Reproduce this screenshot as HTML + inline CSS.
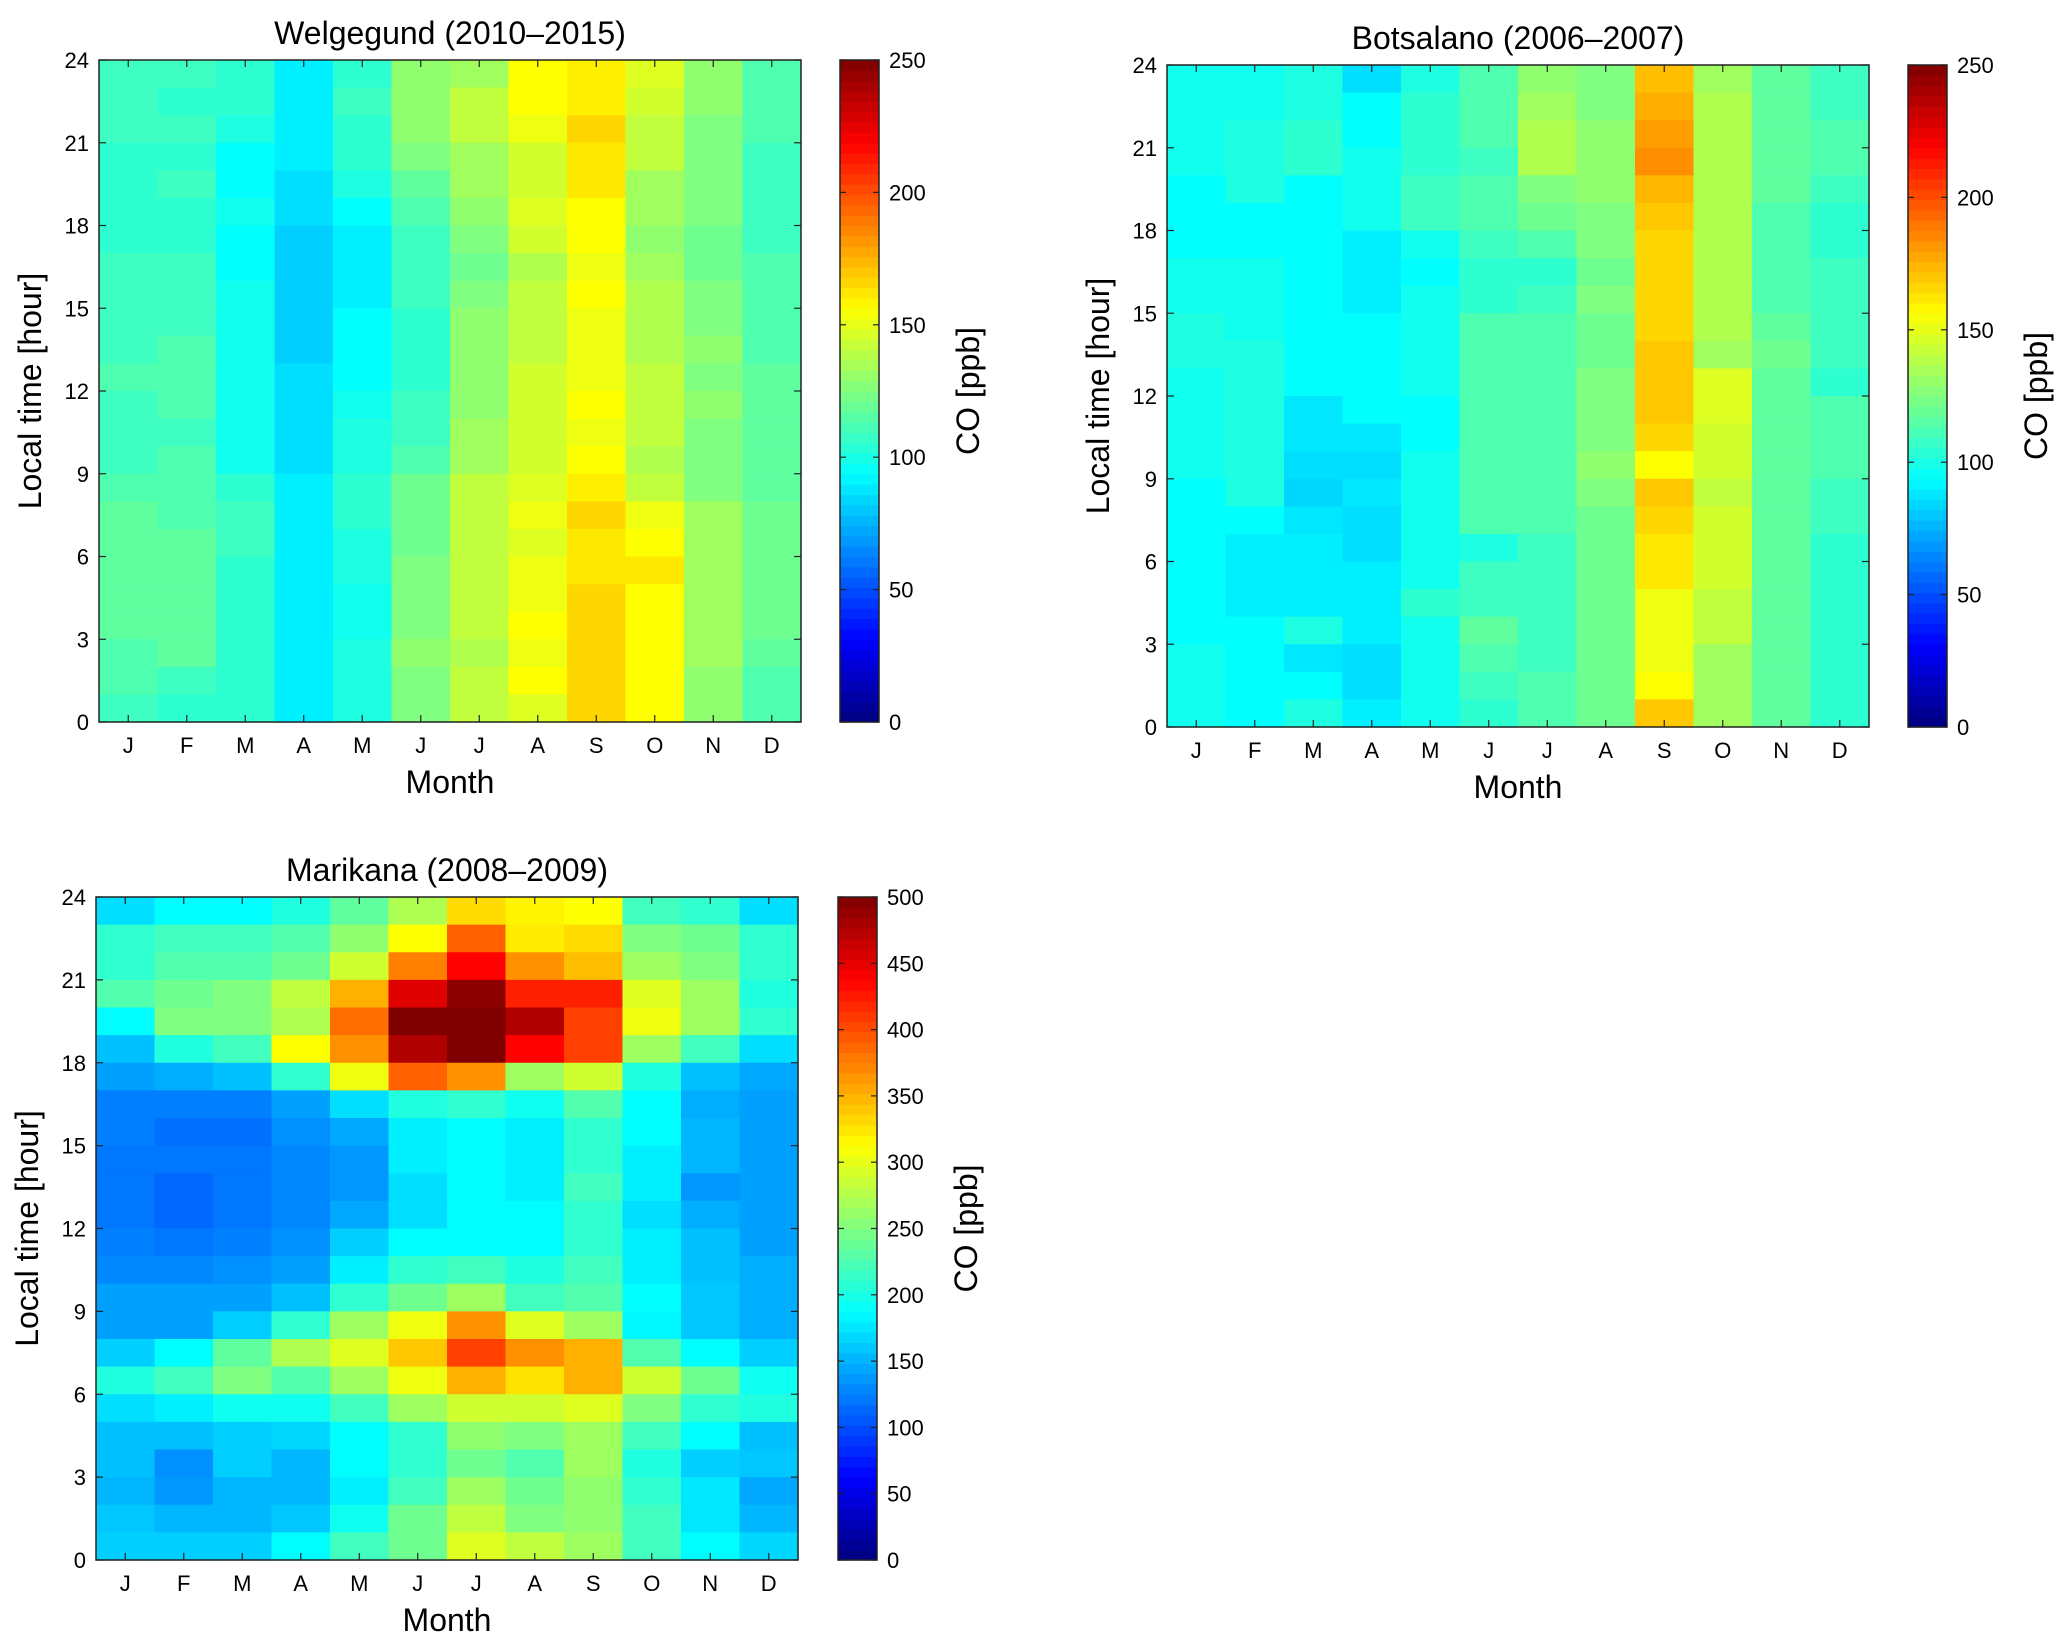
<!DOCTYPE html>
<html><head><meta charset="utf-8"><style>
html,body{margin:0;padding:0;background:#fff;}
svg{display:block;font-family:"Liberation Sans",Arial,sans-serif;}
</style></head><body>
<svg id="chart" width="2067" height="1645" viewBox="0 0 2067 1645" xmlns="http://www.w3.org/2000/svg"></svg>
<script>
const months = ["J","F","M","A","M","J","J","A","S","O","N","D"];
const hourTicks = [0,3,6,9,12,15,18,21,24];
const cbTicksA = [0,50,100,150,200,250];
const cbTicksB = [0,50,100,150,200,250,300,350,400,450,500];
// Rows are hour bins from 23-24 (first) down to 0-1 (last); columns J..D
const welgegund = [
[109,109,105,90,105,129,133,156,160,148,129,113],
[109,105,105,90,109,129,141,156,160,145,129,113],
[109,109,101,90,105,129,141,152,166,141,125,113],
[105,105,94,90,105,125,133,145,162,141,125,109],
[105,109,94,86,101,117,133,145,162,133,125,109],
[105,105,98,86,94,113,129,148,156,133,125,109],
[105,105,94,82,90,109,125,145,156,129,121,109],
[109,109,94,82,90,109,121,137,152,133,121,113],
[109,109,98,82,90,109,125,141,156,137,125,113],
[109,109,98,82,94,105,129,141,152,137,125,113],
[109,113,98,82,94,105,129,141,152,137,129,113],
[113,113,98,86,94,105,129,145,152,141,125,117],
[109,113,98,86,98,109,129,145,156,141,129,117],
[109,109,98,86,101,109,133,145,152,141,125,117],
[109,113,98,86,101,113,133,145,156,137,125,117],
[113,113,105,90,105,121,141,148,160,141,125,117],
[117,113,109,90,105,121,141,152,166,152,133,121],
[117,117,109,90,101,121,141,148,162,156,133,121],
[117,117,105,90,101,125,141,152,162,162,133,121],
[117,117,105,90,98,125,141,152,166,156,133,121],
[117,117,105,90,98,125,141,156,166,156,133,121],
[113,117,105,90,101,129,137,152,166,156,133,117],
[113,109,105,90,101,125,141,156,166,156,129,113],
[109,105,105,90,101,125,141,148,166,156,129,113]];
const botsalano = [
[98,98,101,86,101,113,129,125,172,133,117,109],
[98,98,101,94,105,113,133,125,176,137,117,109],
[98,101,105,94,105,113,137,129,180,137,117,113],
[98,101,105,98,105,109,137,129,184,137,117,113],
[94,101,94,98,109,113,125,129,174,137,117,109],
[94,94,94,98,109,113,121,125,170,137,113,105],
[94,94,94,90,98,109,113,125,166,137,113,105],
[98,98,94,90,94,105,105,121,166,137,113,109],
[98,98,94,90,98,105,109,125,166,137,113,109],
[101,98,94,94,98,113,113,121,166,137,117,109],
[101,101,94,94,98,113,113,121,170,133,121,109],
[98,101,94,94,98,113,113,125,170,148,117,105],
[98,101,88,94,94,113,113,125,170,148,117,113],
[98,101,88,88,94,113,113,125,166,145,117,113],
[98,101,86,86,98,113,113,129,156,145,117,113],
[94,101,84,88,98,113,113,125,170,141,117,109],
[94,94,88,86,98,113,113,121,166,145,117,109],
[94,90,90,86,98,101,109,121,162,145,117,105],
[94,90,90,90,98,109,109,121,162,145,117,105],
[94,90,90,90,105,109,109,121,152,141,117,105],
[94,94,101,90,98,117,109,121,152,141,117,105],
[98,94,88,86,98,113,109,121,152,133,117,105],
[98,94,94,86,98,109,113,121,156,133,117,105],
[98,94,101,90,98,105,113,121,170,133,117,105]];
const marikana = [
[172,187,187,203,234,273,330,318,312,219,211,172],
[211,219,219,227,258,312,390,322,330,250,242,211],
[211,227,227,242,289,375,437,367,344,265,250,211],
[227,242,250,281,351,453,494,422,422,297,265,203],
[187,250,250,273,383,500,500,476,406,305,265,211],
[157,203,219,312,367,476,500,437,406,265,219,172],
[141,148,157,211,305,390,367,265,289,203,157,145],
[125,125,125,141,172,203,211,195,227,187,148,141],
[125,117,117,133,145,180,187,180,211,187,152,141],
[121,121,121,129,137,180,187,180,211,180,152,141],
[121,113,121,129,137,172,187,180,219,180,137,141],
[121,113,121,129,145,172,187,187,211,172,148,141],
[125,121,125,133,164,187,187,187,211,180,157,141],
[129,129,133,141,180,211,219,203,219,180,157,148],
[141,141,141,157,211,242,265,219,227,187,160,148],
[141,141,164,211,265,305,367,297,265,184,160,148],
[164,187,234,273,297,340,406,367,351,227,187,164],
[203,219,250,227,265,305,351,326,351,289,242,195],
[172,180,195,195,219,265,289,289,297,250,211,203],
[157,157,164,168,187,211,258,250,265,219,187,157],
[157,133,164,152,187,211,242,227,265,203,164,160],
[152,137,152,152,180,219,265,242,258,211,176,145],
[160,152,152,160,195,242,281,250,258,219,176,152],
[164,164,164,187,219,242,297,281,265,219,187,168]];

const NS = "http://www.w3.org/2000/svg";
const svg = document.getElementById('chart');
function mk(tag, attrs, parent){const e=document.createElementNS(NS,tag);for(const k in attrs)e.setAttribute(k,attrs[k]);(parent||svg).appendChild(e);return e;}
function jet(t){t=Math.max(0,Math.min(1,t));
  const f=x=>Math.max(0,Math.min(1,x));
  const r=f(Math.min(4*t-1.5,-4*t+4.5)),g=f(Math.min(4*t-0.5,-4*t+3.5)),b=f(Math.min(4*t+0.5,-4*t+2.5));
  return `rgb(${Math.round(r*255)},${Math.round(g*255)},${Math.round(b*255)})`;}

function panel(cfg){
  const {x0,y0,w,h,data,vmax,cbTicks,title,cbx,name}=cfg;
  const g=mk('g',{});
  
  
  const nr=data.length,nc=months.length;
  const xs=c=>x0+c*w/nc, ys=hr=>y0+h-hr*h/24;
  for(let r=0;r<nr;r++)for(let c=0;c<nc;c++){
    const hr=23-r;
    const cell=mk('rect',{x:xs(c),y:ys(hr+1),width:w/nc+0.6,height:h/24+0.6,fill:jet(data[r][c]/vmax)},g);
    
    
  }
  const fr=mk('rect',{x:x0,y:y0,width:w,height:h,fill:'none',stroke:'#222','stroke-width':1.5},g);
  
  
  months.forEach((m,c)=>{const cx=xs(c)+w/nc/2;
    mk('line',{x1:cx,x2:cx,y1:y0+h,y2:y0+h-7,stroke:'#222','stroke-width':1.2},g);
    mk('line',{x1:cx,x2:cx,y1:y0,y2:y0+7,stroke:'#222','stroke-width':1.2},g);
    const t=mk('text',{x:cx,y:y0+h+31,'text-anchor':'middle','font-size':22},g);t.textContent=m;
    
    });
  hourTicks.forEach(v=>{const yy=ys(v);
    mk('line',{x1:x0,x2:x0+7,y1:yy,y2:yy,stroke:'#222','stroke-width':1.2},g);
    mk('line',{x1:x0+w,x2:x0+w-7,y1:yy,y2:yy,stroke:'#222','stroke-width':1.2},g);
    const t=mk('text',{x:x0-10,y:yy+8,'text-anchor':'end','font-size':22},g);t.textContent=v;
    
    });
  const tt=mk('text',{x:x0+w/2,y:y0-16,'text-anchor':'middle','font-size':32},g);tt.textContent=title;
  
  
  const xl=mk('text',{x:x0+w/2,y:y0+h+71,'text-anchor':'middle','font-size':32},g);xl.textContent='Month';
  
  
  const yl=mk('text',{x:0,y:0,'text-anchor':'middle','font-size':32,transform:`translate(${x0-58},${y0+h/2}) rotate(-90)`},g);yl.textContent='Local time [hour]';
  
  
  const cw=39,N=64;
  for(let i=0;i<N;i++){
    const s=mk('rect',{x:cbx,y:y0+h-(i+1)*h/N,width:cw,height:h/N+0.6,fill:jet((i+0.5)/N)},g);
    
    
  }
  const cf=mk('rect',{x:cbx,y:y0,width:cw,height:h,fill:'none',stroke:'#222','stroke-width':1.5},g);
  
  
  cbTicks.forEach(v=>{const yy=y0+h-v/vmax*h;
    mk('line',{x1:cbx,x2:cbx+6,y1:yy,y2:yy,stroke:'#222','stroke-width':1.2},g);
    mk('line',{x1:cbx+cw,x2:cbx+cw-6,y1:yy,y2:yy,stroke:'#222','stroke-width':1.2},g);
    const t=mk('text',{x:cbx+cw+10,y:yy+8,'font-size':22},g);t.textContent=v;
    
    });
  const cl=mk('text',{x:0,y:0,'text-anchor':'middle','font-size':32,transform:`translate(${cbx+cw+100},${y0+h/2}) rotate(-90)`},g);cl.textContent='CO [ppb]';
  
  
}
panel({x0:99,y0:60,w:702,h:662,data:welgegund,vmax:250,cbTicks:cbTicksA,title:'Welgegund (2010\u20132015)',cbx:840,name:'welgegund'});
panel({x0:1167,y0:65,w:702,h:662,data:botsalano,vmax:250,cbTicks:cbTicksA,title:'Botsalano (2006\u20132007)',cbx:1908,name:'botsalano'});
panel({x0:96,y0:897,w:702,h:663,data:marikana,vmax:500,cbTicks:cbTicksB,title:'Marikana (2008\u20132009)',cbx:838,name:'marikana'});
</script>
</body></html>
